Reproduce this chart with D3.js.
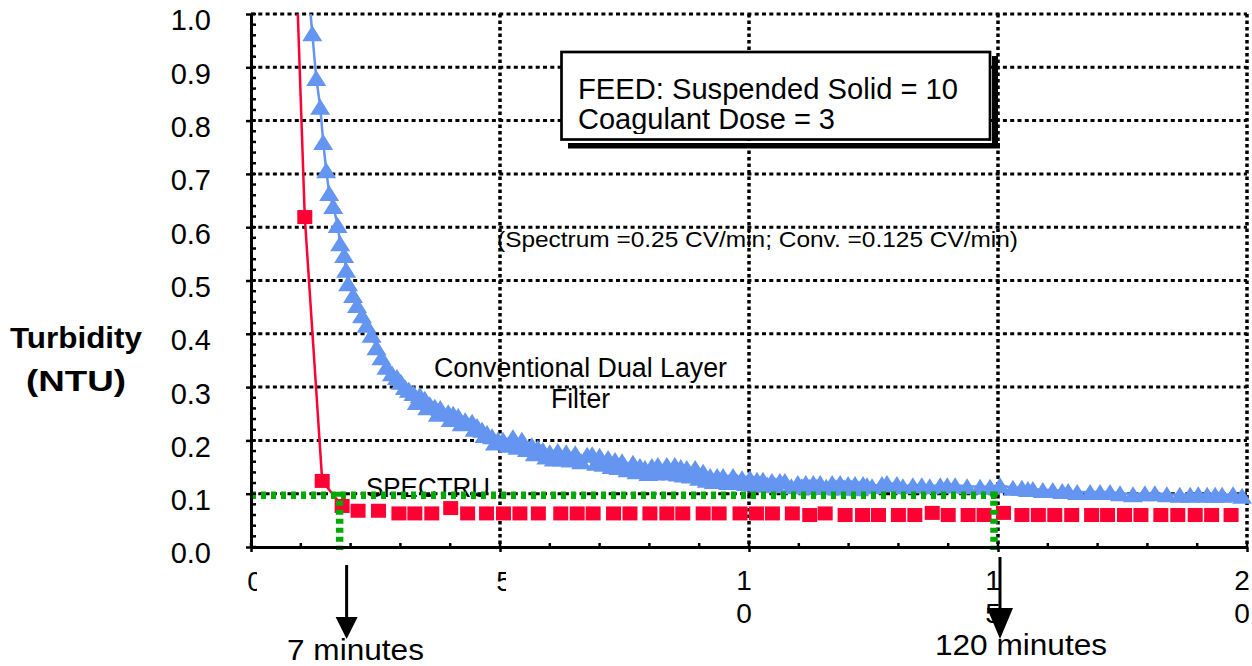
<!DOCTYPE html>
<html><head><meta charset="utf-8">
<script src="https://cdn.jsdelivr.net/npm/d3@7"></script>
<style>
body{margin:0;background:#fff;}
svg{display:block;}
text{font-family:"Liberation Sans",Arial,Helvetica,sans-serif;fill:#000;}
</style>
</head><body>
<svg id="chart" width="1252" height="666"></svg>
<script>
// ---------------- data ----------------
// Conventional Dual Layer Filter (blue triangles)
const convX = [
  1.01,1.23,1.31,1.39,1.45,1.51,1.57,1.65,1.74,1.79,
  1.87,1.91,1.95,2.05,2.13,2.23,2.32,2.42,2.52,2.62,
  2.72,2.83,2.93,3.01,3.09,3.17,3.26,3.33,3.39,3.49,
  3.54,3.59,3.69,3.75,3.80,3.96,4.01,4.06,4.16,4.23,
  4.30,4.44,4.49,4.54,4.64,4.69,4.74,4.84,4.90,4.96,
  5.06,5.16,5.26,5.35,5.44,5.54,5.64,5.70,5.76,5.86,
  5.93,6.00,6.08,6.16,6.25,6.33,6.42,6.51,6.63,6.75,
  6.85,6.93,7.00,7.08,7.17,7.24,7.31,7.38,7.45,7.56,
  7.67,7.74,7.81,7.91,7.98,8.05,8.11,8.17,8.26,8.35,
  8.43,8.51,8.57,8.63,8.69,8.75,8.83,8.92,9.00,9.08,
  9.15,9.22,9.29,9.36,9.42,9.48,9.58,9.68,9.77,9.86,
  9.94,10.02,10.09,10.16,10.22,10.28,10.37,10.46,10.54,10.62,
  10.72,10.85,10.98,11.06,11.14,11.21,11.29,11.36,11.43,11.55,
  11.67,11.75,11.83,11.91,11.99,12.06,12.13,12.21,12.29,12.37,
  12.47,12.67,12.77,12.97,13.09,13.29,13.47,13.63,13.84,13.98,
  14.14,14.38,14.64,14.84,15.04,15.30,15.48,15.60,15.70,15.90,
  16.10,16.29,16.41,16.59,16.85,17.05,17.25,17.45,17.71,17.95,
  18.15,18.39,18.65,18.86,19.02,19.20,19.36,19.50,19.72,19.90];
const convY = [
  1.20,0.964,0.880,0.826,0.760,0.707,0.664,0.640,0.604,0.570,
  0.548,0.520,0.495,0.473,0.454,0.435,0.417,0.398,0.375,0.356,
  0.338,0.326,0.319,0.310,0.300,0.295,0.289,0.272,0.285,0.278,
  0.262,0.268,0.263,0.250,0.261,0.253,0.240,0.250,0.246,0.232,
  0.238,0.235,0.222,0.227,0.220,0.210,0.214,0.208,0.196,0.201,
  0.201,0.192,0.206,0.188,0.201,0.184,0.191,0.176,0.186,0.182,
  0.170,0.178,0.166,0.180,0.166,0.178,0.164,0.176,0.161,0.173,
  0.174,0.158,0.171,0.156,0.167,0.152,0.163,0.150,0.161,0.146,
  0.158,0.142,0.152,0.148,0.139,0.152,0.140,0.154,0.141,0.154,
  0.140,0.154,0.138,0.150,0.136,0.148,0.134,0.148,0.130,0.141,
  0.126,0.133,0.124,0.133,0.124,0.133,0.122,0.133,0.122,0.129,
  0.120,0.129,0.119,0.126,0.118,0.126,0.117,0.124,0.116,0.124,
  0.124,0.114,0.120,0.114,0.120,0.113,0.120,0.113,0.120,0.113,
  0.120,0.112,0.120,0.112,0.118,0.111,0.118,0.110,0.118,0.116,
  0.114,0.118,0.120,0.118,0.114,0.116,0.116,0.114,0.116,0.116,
  0.116,0.114,0.113,0.113,0.116,0.111,0.111,0.109,0.109,0.107,
  0.107,0.105,0.105,0.103,0.103,0.103,0.103,0.101,0.099,0.101,
  0.101,0.099,0.098,0.098,0.099,0.098,0.098,0.098,0.099,0.096];

// SPECTRUM (red squares); only the first points are joined by a line
const specX = [0.83,1.08,1.43,1.83,
  2.15,2.56,2.97,3.29,3.63,4.01,
  4.35,4.73,5.07,5.40,5.77,6.22,
  6.55,6.87,7.28,7.61,8.01,8.35,
  8.67,9.08,9.40,9.82,10.15,10.47,
  10.87,11.22,11.53,11.93,12.28,12.60,
  13.00,13.33,13.68,14.00,14.40,14.72,
  15.11,15.48,15.81,16.14,16.48,16.88,
  17.20,17.54,17.87,18.27,18.61,18.96,
  19.29,19.68];
const specY = [1.30,0.619,0.124,0.077,
  0.068,0.068,0.063,0.063,0.063,0.073,
  0.063,0.063,0.063,0.063,0.063,0.063,
  0.063,0.063,0.063,0.063,0.063,0.063,
  0.063,0.063,0.063,0.063,0.063,0.063,
  0.063,0.060,0.063,0.060,0.060,0.060,
  0.060,0.060,0.064,0.060,0.060,0.060,
  0.064,0.060,0.060,0.060,0.060,0.060,
  0.060,0.060,0.060,0.060,0.060,0.060,
  0.060,0.060];
const specLinePoints = 4;

const yTickValues = [0,0.1,0.2,0.3,0.4,0.5,0.6,0.7,0.8,0.9,1.0];
const yTickLabels = ["0.0","0.1","0.2","0.3","0.4","0.5","0.6","0.7","0.8","0.9","1.0"];
const xTickValues = [0,5,10,15,20];
const xTickLabels = [["0"],["5"],["1","0"],["1","5"],["2","0"]];

const thresholdY = 0.1;
const breakthroughX = [1.78, 14.92];
const arrowX = [1.92, 15.04];
const arrowLabels = ["7 minutes", "120 minutes"];
const yTitle = ["Turbidity", "(NTU)"];
const legendLines = ["FEED: Suspended Solid = 10", "Coagulant Dose = 3"];
const rateNote = "(Spectrum =0.25 CV/min; Conv. =0.125 CV/min)";
const convLabel = ["Conventional Dual Layer", "Filter"];
const specLabel = "SPECTRU";

// ---------------- drawing ----------------
const svg = d3.select("#chart");
const x = d3.scaleLinear().domain([0, 20]).range([251, 1247]);
const y = d3.scaleLinear().domain([0, 1]).range([547, 14]);

const RED = "#ff0033", BLUE = "#6495f0", GREEN = "#00aa00";

const defs = svg.append("defs");
defs.append("clipPath").attr("id", "plotClip").append("rect")
  .attr("x", 0).attr("y", y(1)).attr("width", 1252).attr("height", 666);
defs.append("clipPath").attr("id", "legClip").append("rect")
  .attr("x", 560).attr("y", 50).attr("width", 430).attr("height", 84);

function txt(parent, str, px, py, size, opts = {}) {
  const t = parent.append("text").attr("x", px).attr("y", py)
    .attr("font-size", size).text(str);
  if (opts.anchor) t.attr("text-anchor", opts.anchor);
  if (opts.bold) t.attr("font-weight", "bold");
  if (opts.len) t.attr("textLength", opts.len).attr("lengthAdjust", "spacingAndGlyphs");
  return t;
}

// grid
const grid = svg.append("g");
grid.selectAll("line.h").data(yTickValues.filter(v => v > 0)).join("line")
  .attr("x1", x(0)).attr("x2", x(20)).attr("y1", d => y(d)).attr("y2", d => y(d))
  .attr("stroke", "#000").attr("stroke-width", 3).attr("stroke-dasharray", "4,3.3");
grid.selectAll("line.v").data(xTickValues.filter(v => v > 0)).join("line")
  .attr("x1", d => x(d)).attr("x2", d => x(d)).attr("y1", y(1)).attr("y2", y(0))
  .attr("stroke", "#000").attr("stroke-width", 3.5).attr("stroke-dasharray", "3.5,3");

// box with shadow
const box = svg.append("g");
box.append("rect").attr("x", 568).attr("y", 143).attr("width", 432).attr("height", 5.5).attr("fill", "#000");
box.append("rect").attr("x", 992).attr("y", 56).attr("width", 6).attr("height", 92).attr("fill", "#000");
box.append("rect").attr("x", 561.5).attr("y", 52).attr("width", 428.5).attr("height", 87.5)
  .attr("fill", "#fff").attr("stroke", "#000").attr("stroke-width", 2.7);
const legT = box.append("g").attr("clip-path", "url(#legClip)");
txt(legT, legendLines[0], 578, 98.5, 29, {len: 380});
txt(legT, legendLines[1], 578, 128.5, 29, {len: 257});

// annotations in plot
const ann = svg.append("g");
txt(ann, rateNote, 497, 247, 22, {len: 521});
txt(ann, convLabel[0], 434, 377, 27, {len: 293});
txt(ann, convLabel[1], 551, 408, 27, {len: 59});
txt(ann, specLabel, 366, 497, 27, {len: 124});

// blue series
const conv = convX.map((v, i) => [v, convY[i]]);
const spec = specX.map((v, i) => [v, specY[i]]);
const line = d3.line().x(d => x(d[0])).y(d => y(d[1]));
svg.append("path").datum(conv).attr("d", line).attr("fill", "none")
  .attr("stroke", BLUE).attr("stroke-width", 2.5).attr("clip-path", "url(#plotClip)");
const triPath = "M0,-8L10,8L-10,8Z";
svg.append("g").attr("clip-path", "url(#plotClip)").selectAll("path").data(conv).join("path")
  .attr("d", triPath).attr("fill", BLUE)
  .attr("transform", d => `translate(${x(d[0])},${y(d[1])})`);

// red series
svg.append("path").datum(spec.slice(0, specLinePoints)).attr("d", line).attr("fill", "none")
  .attr("stroke", RED).attr("stroke-width", 2.5).attr("clip-path", "url(#plotClip)");
svg.append("g").attr("clip-path", "url(#plotClip)").selectAll("rect").data(spec).join("rect")
  .attr("x", d => x(d[0]) - 7.5).attr("y", d => y(d[1]) - 7)
  .attr("width", 15).attr("height", 14).attr("fill", RED);

// green threshold
const g2 = svg.append("g").attr("stroke", GREEN).attr("fill", "none");
g2.append("line").attr("x1", x(0)).attr("x2", x(breakthroughX[1]) + 4)
  .attr("y1", y(thresholdY) + 1.5).attr("y2", y(thresholdY) + 1.5)
  .attr("stroke-width", 7.5).attr("stroke-dasharray", "5,5");
breakthroughX.forEach(bx => {
  g2.append("line").attr("x1", x(bx)).attr("x2", x(bx))
    .attr("y1", y(thresholdY) - 2).attr("y2", y(0) + 3)
    .attr("stroke-width", 7.5).attr("stroke-dasharray", "5,4");
});

// axes
const yAxis = svg.append("g").attr("transform", `translate(${x(0)},0)`)
  .call(d3.axisLeft(y).tickValues(yTickValues).tickFormat((d, i) => yTickLabels[i])
    .tickSizeInner(5).tickSizeOuter(0).tickPadding(35));
yAxis.select(".domain").attr("stroke-width", 3);
yAxis.selectAll(".tick line").attr("stroke-width", 2.5);
yAxis.selectAll(".tick text").attr("font-size", 29).attr("dy", "0.55em")
  .attr("font-family", '"Liberation Sans",Arial,sans-serif');
const yMinor = d3.range(0, 51).map(i => i / 50);
yAxis.append("g").selectAll("line").data(yMinor).join("line")
  .attr("x1", 0).attr("x2", 5).attr("y1", d => y(d)).attr("y2", d => y(d))
  .attr("stroke", "#000").attr("stroke-width", 2.5);

const xAxis = svg.append("g").attr("transform", `translate(0,${y(0)})`)
  .call(d3.axisBottom(x).tickValues(xTickValues).tickFormat("")
    .tickSizeInner(5).tickSizeOuter(0));
xAxis.select(".domain").attr("stroke-width", 3);
xAxis.selectAll(".tick line").attr("stroke-width", 2.5);
xAxis.append("g").selectAll("line").data(d3.range(0, 21)).join("line")
  .attr("x1", d => x(d)).attr("x2", d => x(d)).attr("y1", -4).attr("y2", 0)
  .attr("stroke", "#000").attr("stroke-width", 2.5);

// x tick labels (wrapped / truncated like the original)
xTickValues.forEach((v, i) => {
  const lines = xTickLabels[i];
  if (lines.length === 1) {
    const id = "xl" + i;
    defs.append("clipPath").attr("id", id).append("rect")
      .attr("x", x(v) - 10).attr("y", 560).attr("width", 16).attr("height", 40);
    txt(svg.append("g").attr("clip-path", `url(#${id})`), lines[0], x(v) + 4, 591, 28, {anchor: "middle"});
  } else {
    lines.forEach((s, j) => txt(svg, s, x(v) - 5, 590 + j * 33, 28, {anchor: "middle"}));
  }
});

// y title
txt(svg, yTitle[0], 76, 348, 29, {anchor: "middle", bold: true, len: 132});
txt(svg, yTitle[1], 76, 391, 29, {anchor: "middle", bold: true, len: 100});

// arrows + labels
const arrowTop = [565, 557], arrowTip = 639, headLen = [22, 31], headW = [22, 26];
const arr = svg.append("g");
arrowX.forEach((ax, i) => {
  const cx = x(ax);
  arr.append("line").attr("x1", cx).attr("x2", cx).attr("y1", arrowTop[i]).attr("y2", arrowTip - headLen[i] + 2)
    .attr("stroke", "#000").attr("stroke-width", 3);
  arr.append("path").attr("d", d3.line()([[cx - headW[i] / 2, arrowTip - headLen[i]], [cx + headW[i] / 2, arrowTip - headLen[i]], [cx, arrowTip]]) + "Z")
    .attr("fill", "#000");
});
txt(svg, arrowLabels[0], 287, 660, 30, {len: 137});
txt(svg, arrowLabels[1], 935, 655, 30, {len: 172});
</script>
</body></html>
